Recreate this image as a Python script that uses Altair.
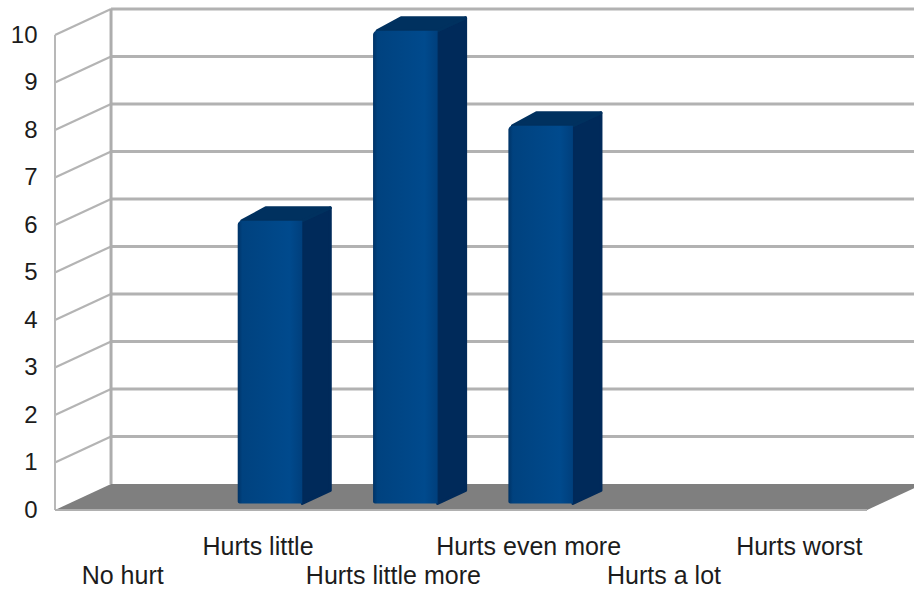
import altair as alt
import pandas as pd

# Chart content
categories = ["No hurt", "Hurts little", "Hurts little more", "Hurts even more", "Hurts a lot", "Hurts worst"]
counts = [0, 6, 10, 8, 0, 0]
ticks = list(range(11))

# Oblique projection, in axis units: how far the back wall is shifted from the front plane
DEPTH_X = 0.414
DEPTH_Y = 0.55
BAR_WIDTH = 0.477
BAR_FRONT = 0.25
BAR_BACK = 0.75
BAR_NUDGE = -0.015  # bars sit slightly left of the band centre
TOP_BEVEL = 0.05    # rounded bar edges take a little off the visible top
TOP_CORNER = 0.03   # softens the acute front corner of the top face
X_MAX = 6.347
LABEL_ROWS = [-0.78, -1.39]

x_scale = alt.Scale(domain=[0, X_MAX], nice=False, zero=False)
y_scale = alt.Scale(domain=[-1.81, 10.737], nice=False, zero=False)

wall_axis = alt.Axis(values=ticks, ticks=False, domain=False, grid=False, title=None,
                     labelFont="Liberation Sans", labelFontSize=24, labelColor="#1c1c1c",
                     labelPadding=18, labelOverlap=False)


def X(name):
    return alt.X(name, type="quantitative", scale=x_scale, axis=None)


def Y(name):
    return alt.Y(name, type="quantitative", scale=y_scale, axis=wall_axis)


# Walls
back_lines = pd.DataFrame({"x": [DEPTH_X] * len(ticks[1:]), "x2": [X_MAX] * len(ticks[1:]),
                           "y": [t + DEPTH_Y for t in ticks[1:]]})
side_lines = pd.DataFrame({"x": [0] * len(ticks[1:]), "x2": [DEPTH_X] * len(ticks[1:]),
                           "y": ticks[1:], "y2": [t + DEPTH_Y for t in ticks[1:]]})
back_edge = pd.DataFrame({"x": [DEPTH_X], "y": [DEPTH_Y], "y2": [10 + DEPTH_Y]})
front_edge = pd.DataFrame({"x": [0], "y": [0], "y2": [10]})
base_edge = pd.DataFrame({"x": [0], "x2": [len(categories)], "y": [0]})

side_rules = alt.Chart(side_lines).mark_rule(color="#b4b4b4", strokeWidth=2.2).encode(
    x=X("x"), x2="x2", y=Y("y"), y2="y2")
back_rules = alt.Chart(back_lines).mark_rule(color="#b2b2b2", strokeWidth=3).encode(
    x=X("x"), x2="x2", y=Y("y"))
back_vertical = alt.Chart(back_edge).mark_rule(color="#adadad", strokeWidth=3).encode(
    x=X("x"), y=Y("y"), y2="y2")
front_vertical = alt.Chart(front_edge).mark_rule(color="#b8b8b8", strokeWidth=2).encode(
    x=X("x"), y=Y("y"), y2="y2")

# Floor
floor_df = pd.DataFrame({"y": [0, DEPTH_Y], "x": [0, DEPTH_X],
                         "x2": [len(categories), len(categories) + DEPTH_X]})
floor = alt.Chart(floor_df).mark_area(orient="horizontal", color="#7f7f7f", clip=True).encode(
    y=Y("y"), x=X("x"), x2="x2")
base_rule = alt.Chart(base_edge).mark_rule(color="#b0b0b0", strokeWidth=2).encode(
    x=X("x"), x2="x2", y=Y("y"))

# Bars: front, side and top faces for every non-empty category
front_rows, side_rows, top_rows = [], [], []
for i, value in enumerate(counts):
    if value == 0:
        continue
    left = i + 0.5 - BAR_WIDTH / 2 + DEPTH_X * BAR_FRONT + BAR_NUDGE
    right = left + BAR_WIDTH
    base = DEPTH_Y * BAR_FRONT
    shift_x = DEPTH_X * (BAR_BACK - BAR_FRONT)
    shift_y = DEPTH_Y * (BAR_BACK - BAR_FRONT)
    top = base + value - TOP_BEVEL
    front_rows.append({"bar": i, "x": left, "x2": right, "y": base, "y2": top})
    side_rows.append({"bar": i, "x": right, "y": base, "y2": top})
    side_rows.append({"bar": i, "x": right + shift_x, "y": base + shift_y, "y2": top + shift_y})
    top_rows.append({"bar": i, "y": top, "x": left + TOP_CORNER, "x2": right})
    top_rows.append({"bar": i, "y": top + shift_y, "x": left + shift_x, "x2": right + shift_x})

front_fill = alt.Gradient(
    gradient="linear", x1=0, x2=1, y1=0, y2=0,
    stops=[alt.GradientStop(offset=0, color="#003366"),
           alt.GradientStop(offset=0.07, color="#00427f"),
           alt.GradientStop(offset=0.8, color="#004a8d"),
           alt.GradientStop(offset=1, color="#003f7c")])

side_faces = alt.Chart(pd.DataFrame(side_rows)).mark_area(
    color="#002a5a", stroke="#002a5a", strokeWidth=3, strokeJoin="round"
).encode(x=X("x"), y=Y("y"), y2="y2", detail="bar:N")
top_faces = alt.Chart(pd.DataFrame(top_rows)).mark_area(
    orient="horizontal", color="#00315f", stroke="#00315f", strokeWidth=3, strokeJoin="round"
).encode(y=Y("y"), x=X("x"), x2="x2", detail="bar:N")
front_faces = alt.Chart(pd.DataFrame(front_rows)).mark_bar(
    fill=front_fill, cornerRadiusTopLeft=4, cornerRadiusBottomLeft=2
).encode(x=X("x"), x2="x2", y=Y("y"), y2="y2")

# Category names, staggered over two rows
label_df = pd.DataFrame({
    "x": [i + 0.5 for i in range(len(categories))],
    "y": [LABEL_ROWS[(i + 1) % 2] for i in range(len(categories))],
    "label": categories,
})
labels = alt.Chart(label_df).mark_text(
    font="Liberation Sans", fontSize=25, color="#1c1c1c", align="center", baseline="middle"
).encode(x=X("x"), y=Y("y"), text="label:N")

chart = alt.layer(
    side_rules, back_rules, back_vertical, front_vertical, floor, base_rule,
    side_faces, top_faces, front_faces, labels,
).properties(
    width=859, height=596, background="white",
    padding={"left": 55, "right": 0, "top": 0, "bottom": 0},
    autosize=alt.AutoSizeParams(type="none"),
).configure_view(stroke=None)

chart.save("out.html", embed_options={"renderer": "svg", "actions": False})
